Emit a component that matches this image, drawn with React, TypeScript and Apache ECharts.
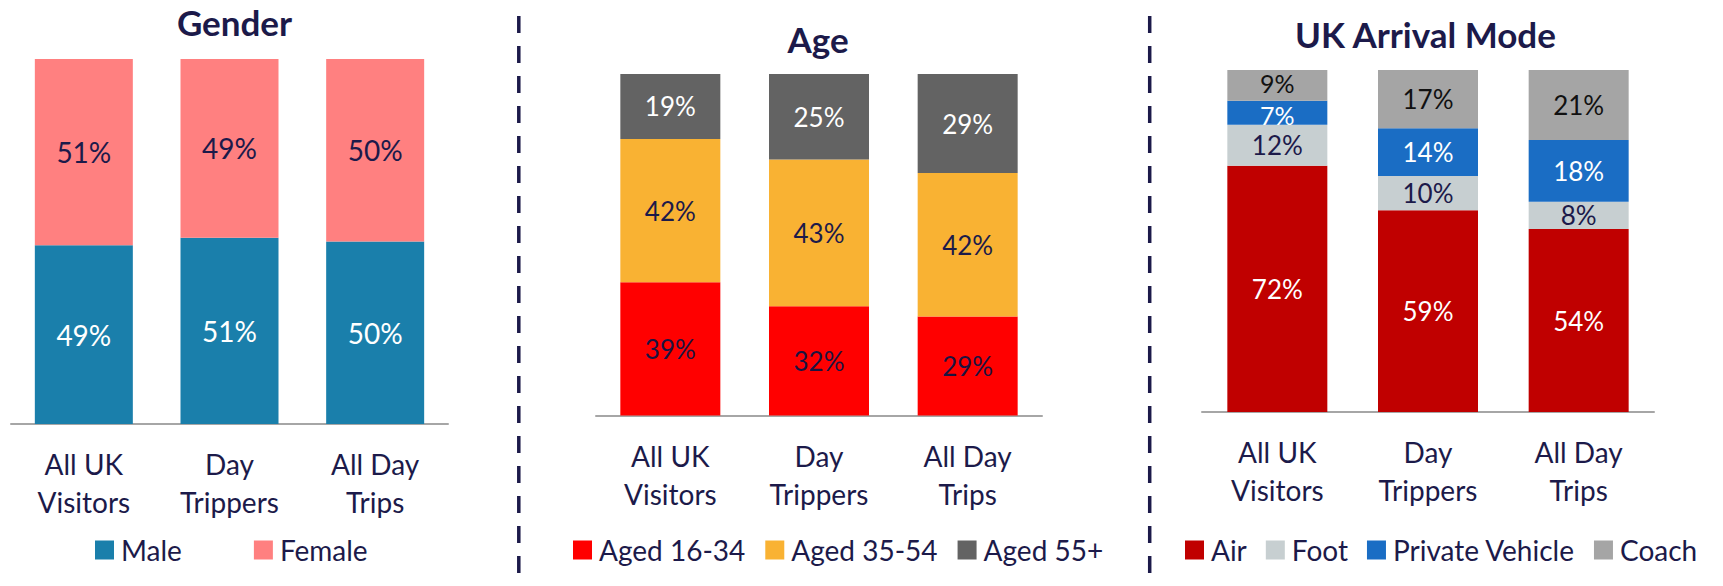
import React, { useEffect, useRef } from "react";
import * as echarts from "echarts";

const categories = ["All UK\nVisitors", "Day\nTrippers", "All Day\nTrips"];

const genderMale = [49, 51, 50];
const genderFemale = [51, 49, 50];

const age1634 = [39, 32, 29];
const age3554 = [42, 43, 42];
const age55 = [19, 25, 29];

const modeAir = [72, 59, 53.5];
const modeFoot = [12, 10, 8];
const modeVehicle = [7, 14, 18];
const modeCoach = [9, 17, 20.5];

const panelTitles = ["Gender", "Age", "UK Arrival Mode"];

const NAVY = "#1c1a4a";
const FONT = "Lato, 'Open Sans', sans-serif";

function App() {
  const ref = useRef<HTMLDivElement>(null);

  useEffect(() => {
    document.body.style.margin = "0";
    if (!ref.current) return;
    const chart = echarts.init(ref.current, undefined, { renderer: "svg" });

    const grids = [
      { left: 11, top: 59, width: 437, height: 365 },
      { left: 596, top: 74, width: 446, height: 341.5 },
      { left: 1202, top: 70, width: 452, height: 342 },
    ];

    const xAxis = grids.map((_, i) => ({
      type: "category",
      gridIndex: i,
      data: categories,
      axisLine: { lineStyle: { color: "#a6a6a6", width: 2 } },
      axisTick: { show: false },
      axisLabel: {
        interval: 0,
        margin: 21,
        fontSize: 28,
        lineHeight: 38,
        color: NAVY,
        fontFamily: FONT,
      },
    }));

    const yAxis = grids.map((_, i) => ({
      type: "value",
      gridIndex: i,
      min: 0,
      max: 100,
      show: false,
      splitLine: { show: false },
    }));

    const mk = (
      name: string,
      data: any[],
      color: string,
      labelColor: string,
      idx: number,
      barWidth: number,
      fontSize: number
    ) => ({
      type: "bar",
      name,
      data,
      stack: "s" + idx,
      xAxisIndex: idx,
      yAxisIndex: idx,
      barWidth,
      itemStyle: { color },
      label: {
        show: true,
        position: "inside",
        fontSize,
        lineHeight: 21,
        fontFamily: FONT,
        color: labelColor,
        formatter: (p: any) => Math.round(p.value) + "%",
      },
    });

    // the two thin top segments of the first arrival-mode bar: nudge labels apart slightly
    const tight = (arr: number[], dy: number) =>
      arr.map((v, i) =>
        i === 0 ? { value: v, label: { fontSize: 25, offset: [0, dy] } } : v
      );

    const series = [
      mk("Male", genderMale, "#1a7fab", "#ffffff", 0, 98, 28),
      mk("Female", genderFemale, "#ff8080", NAVY, 0, 98, 28),
      mk("Aged 16-34", age1634, "#ff0000", "#1a1440", 1, 100, 26),
      mk("Aged 35-54", age3554, "#f9b233", NAVY, 1, 100, 26),
      mk("Aged 55+", age55, "#636363", "#ffffff", 1, 100, 26),
      mk("Air", modeAir, "#c00000", "#ffffff", 2, 100, 26),
      mk("Foot", modeFoot, "#c7cfd1", NAVY, 2, 100, 26),
      mk("Private Vehicle", tight(modeVehicle, 2), "#1a6dc4", "#ffffff", 2, 100, 26),
      mk("Coach", tight(modeCoach, -2), "#a5a5a5", "#111111", 2, 100, 26),
    ];

    const legendBase = {
      orient: "horizontal",
      icon: "rect",
      itemWidth: 19,
      itemHeight: 19,
      top: 531,
      textStyle: {
        fontSize: 28,
        color: NAVY,
        fontFamily: FONT,
        padding: [0, 0, 0, 2],
      },
      selectedMode: false,
    };

    const legend = [
      { ...legendBase, left: 90, itemGap: 72, data: ["Male", "Female"] },
      { ...legendBase, left: 568, itemGap: 20, data: ["Aged 16-34", "Aged 35-54", "Aged 55+"] },
      { ...legendBase, left: 1180, itemGap: 19, data: ["Air", "Foot", "Private Vehicle", "Coach"] },
    ];

    const titlePos = [
      [234.5, 22],
      [818, 38.5],
      [1425.5, 33.5],
    ];

    const graphic: any[] = [
      ...panelTitles.map((t, i) => ({
        type: "text",
        x: titlePos[i][0],
        y: titlePos[i][1],
        style: {
          text: t,
          fill: NAVY,
          font: `bold 35px ${FONT}`,
          align: "center",
          verticalAlign: "middle",
        },
      })),
      ...[518.8, 1149.7].map((x) => ({
        type: "line",
        shape: { x1: x, y1: 16, x2: x, y2: 586 },
        style: { stroke: NAVY, lineWidth: 3.5, lineDash: [17, 13] },
      })),
    ];

    chart.setOption({
      animation: false,
      backgroundColor: "#ffffff",
      grid: grids,
      xAxis,
      yAxis,
      legend,
      series,
      graphic,
    } as any);

    return () => chart.dispose();
  }, []);

  return <div ref={ref} style={{ width: 1723, height: 586 }} />;
}

export default App;
